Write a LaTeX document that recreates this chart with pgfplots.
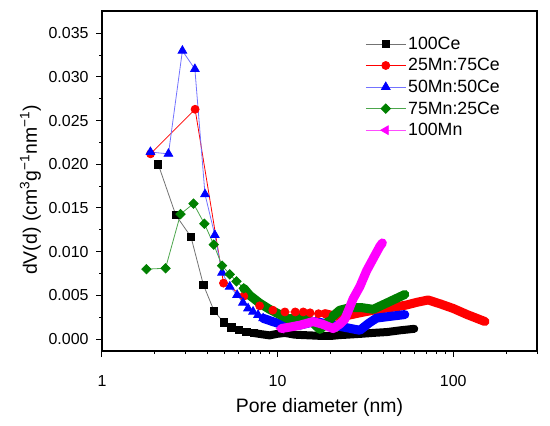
\documentclass[border=0pt]{standalone}
\usepackage{fontspec}
\setmainfont{Liberation Sans}
\usepackage{pgfplots}
\pgfplotsset{compat=1.18}
\definecolor{cred}{RGB}{255,0,0}
\definecolor{cblue}{RGB}{0,0,255}
\definecolor{cgreen}{RGB}{0,128,0}
\definecolor{cmag}{RGB}{255,0,255}
\begin{document}
\begin{tikzpicture}
\begin{axis}[
  scale only axis, width=435bp, height=340bp,
  xmode=log, xmin=1, xmax=300, ymin=-0.00137, ymax=0.03755,
  axis line style={line width=1.1bp},
  tick align=outside, tick pos=left,
  major tick length=6bp, minor tick length=3bp,
  every tick/.style={black, line width=1bp},
  xtick={1,10,100}, xticklabels={1,10,100},
  minor xtick={2,3,4,5,6,7,8,9,20,30,40,50,60,70,80,90,200,300},
  ytick={0,0.005,0.01,0.015,0.02,0.025,0.03,0.035},
  yticklabels={0.000,0.005,0.010,0.015,0.020,0.025,0.030,0.035},
  scaled y ticks=false, scaled x ticks=false,
  minor ytick={0.0025,0.0075,0.0125,0.0175,0.0225,0.0275,0.0325},
  tick label style={font=\fontsize{16}{19}\selectfont},
  xticklabel style={yshift=-15bp},
  yticklabel style={xshift=-4bp},
  xlabel={Pore diameter (nm)},
  ylabel={dV(d) (cm\textsuperscript{3}g\textsuperscript{−1}nm\textsuperscript{−1})},
  label style={font=\fontsize{19.5}{23}\selectfont},
  xlabel style={at={(axis description cs:0.5,0)}, anchor=base, yshift=-61.7bp},
  ylabel style={at={(axis description cs:-0.150,0.4735)}, anchor=base},
  legend style={draw=none, fill=none, at={(axis description cs:0.605,0.93)}, anchor=north west,
    font=\fontsize{17.8}{20}\selectfont, inner sep=0pt, row sep=3.7bp},
  legend cell align=left,
  legend image code/.code={\draw[mark repeat=2,mark phase=2,#1] plot coordinates {(0bp,0bp) (20bp,0bp) (40bp,0bp)};},
]
% 100Ce
\addplot[black!55, line width=0.8bp, mark=square*, mark size=3.65bp, mark options={solid, fill=black, draw=black}]
 coordinates {(2.09,0.0200) (2.63,0.0142) (3.21,0.0117) (3.78,0.0062) (4.35,0.0032) (4.94,0.0019) (5.46,0.00134) (6.04,0.00103) (6.65,0.0008) (7.3,0.00069)};
\addlegendentry{100Ce}
\addplot[black, line width=8bp, line join=round, line cap=round, forget plot]
 coordinates {(7.3,0.00069) (8.1,0.00055) (9.0,0.00042) (10,0.0006) (11,0.0007) (12.5,0.0005) (14,0.00045) (16,0.0004) (18,0.00035) (20,0.00035) (22.6,0.00045) (25,0.0005) (30,0.0006) (35,0.0007) (42,0.0008) (50,0.0010) (60,0.00117)};
% 25Mn:75Ce
\addplot[cred, line width=0.8bp, mark=*, mark size=4bp, mark options={solid, fill=cred, draw=cred}]
 coordinates {(1.89,0.0212) (3.39,0.0263) (4.92,0.0064) (6.42,0.0049) (7.9,0.0038) (9.39,0.0033) (11.0,0.0031) (12.6,0.0031) (14.0,0.0031) (15.3,0.0030) (17.1,0.0029) (18.6,0.0029)};
\addlegendentry{25Mn:75Ce}
\addplot[cred, line width=9bp, line join=round, line cap=round, forget plot]
 coordinates {(18.6,0.0029) (20.5,0.0027) (22.6,0.00255) (25,0.0027) (29.4,0.0030) (35,0.0033) (41.7,0.00355) (48,0.0037) (54.3,0.0039) (62,0.0042) (72,0.00447) (85,0.0040) (100,0.0035) (120,0.0028) (135,0.0024) (151.6,0.0020)};
% 50Mn:50Ce
\addplot[cblue!55, line width=0.8bp, mark=triangle*, mark size=5bp, mark options={solid, fill=cblue, draw=cblue}]
 coordinates {(1.887,0.0214) (2.39,0.0212) (2.87,0.0330) (3.38,0.0309) (3.86,0.01657) (4.39,0.0119) (4.83,0.0076) (5.34,0.0060) (5.88,0.00504) (6.35,0.00416) (6.79,0.00351) (7.25,0.00313) (7.74,0.00275) (8.27,0.00237)};
\addlegendentry{50Mn:50Ce}
\addplot[cblue, line width=9bp, line join=round, line cap=round, forget plot]
 coordinates {(8.27,0.00237) (9.43,0.00198) (11.2,0.0015) (13.4,0.0016) (16.3,0.0020) (18.5,0.0018) (20.7,0.0016) (24.7,0.0013) (29.4,0.0010) (33,0.0018) (36.6,0.0024) (44,0.0026) (53,0.0028)};
% 75Mn:25Ce
\addplot[cgreen!70, line width=0.8bp, mark=square*, mark size=3.3bp, mark options={solid, rotate=45, fill=cgreen, draw=cgreen}]
 coordinates {(1.79,0.0080) (2.30,0.0081) (2.80,0.0143) (3.32,0.0155) (3.83,0.0132) (4.33,0.0108) (4.83,0.0084) (5.34,0.0074) (5.83,0.0066) (6.42,0.0058)};
\addlegendentry{75Mn:25Ce}
\addplot[cgreen, line width=9bp, line join=round, line cap=round, forget plot]
 coordinates {(6.42,0.0058) (6.94,0.0050) (7.92,0.0041) (9.0,0.0034) (10.3,0.0028) (11.5,0.0023) (13.3,0.0025) (15.5,0.0021) (16.6,0.0015) (17.4,0.0011) (19,0.0018) (20.6,0.0026) (22.6,0.0033) (26,0.0036) (30,0.0036) (35,0.0034) (42.6,0.0042) (53,0.0051)};
% 100Mn
\addplot[cmag!70, line width=0.8bp, mark=triangle*, mark size=5bp, mark options={solid, rotate=90, fill=cmag, draw=cmag}]
 coordinates {(10.5,0.0012)};
\addlegendentry{100Mn}
\addplot[cmag, line width=9bp, line join=round, line cap=round, forget plot]
 coordinates {(10.5,0.0012) (12,0.0014) (13.5,0.0016) (15.9,0.0020) (18,0.0017) (20.7,0.0012) (22.6,0.0017) (24.2,0.0023) (26.9,0.0046) (29.4,0.0060) (32.1,0.0078) (35,0.0092) (38.2,0.0106) (39.5,0.0110)};
\coordinate (ll) at (rel axis cs:0,0);
\coordinate (ur) at (rel axis cs:1,1);
\end{axis}
\pgfresetboundingbox
\path[use as bounding box] ([xshift=-102bp,yshift=-75bp]ll) rectangle ([xshift=13bp,yshift=11bp]ur);
\end{tikzpicture}
\end{document}
